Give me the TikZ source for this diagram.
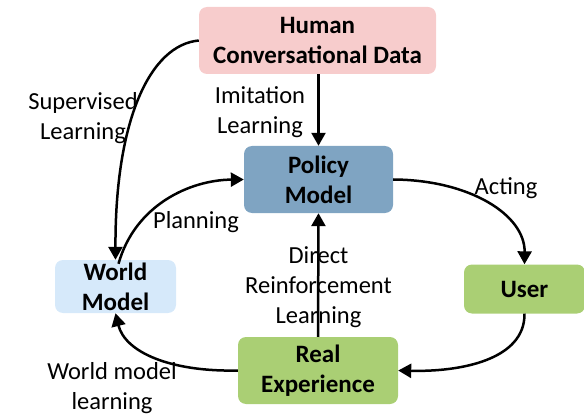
\documentclass[tikz,border=0pt]{standalone}
\usepackage{fontspec}
\setmainfont{Carlito}
\usetikzlibrary{arrows.meta}
\definecolor{pinkbox}{RGB}{247,204,204}
\definecolor{policybox}{RGB}{127,164,194}
\definecolor{worldbox}{RGB}{214,233,250}
\definecolor{greenbox}{RGB}{170,207,116}
\tikzset{
  box/.style={rounded corners=8pt, inner sep=0pt, align=center, font=\fontsize{25}{30}\selectfont\bfseries},
  lbl/.style={inner sep=0pt, align=center, font=\fontsize{24.5}{30}\selectfont},
  conn/.style={line width=2.5pt, -{Triangle[length=13pt,width=14pt]}}
}
\begin{document}
\begin{tikzpicture}[x=1pt,y=-1pt]
\useasboundingbox (0,0) rectangle (584,417);
\node[box, fill=pinkbox, minimum width=237pt, minimum height=67pt] (hum) at (317.5,40.5) {Human\\Conversational Data};
\node[box, fill=policybox, minimum width=149pt, minimum height=67pt] (pol) at (318.5,179.5) {Policy\\Model};
\node[box, fill=worldbox, minimum width=121pt, minimum height=53pt] (wor) at (115.5,286.5) {World\\Model};
\node[box, fill=greenbox, minimum width=121pt, minimum height=49pt] (usr) at (524.5,289) {User};
\node[box, fill=greenbox, minimum width=160pt, minimum height=67pt] (rea) at (318,370.5) {Real\\Experience};

\node[lbl] (lsup) at (83,118) {Supervised\\Learning};
\node[lbl] (limi) at (260,112) {Imitation\\Learning};
\node[lbl] (lact) at (506,188) {Acting};
\node[lbl] (lpla) at (196,222) {Planning};
\node[lbl] (ldrl) at (318.5,287) {Direct\\Reinforcement\\Learning};
\node[lbl] (lwml) at (112,388) {World model\\learning};

\draw[conn] (hum.west) .. controls (150,45) and (115,120) .. (wor.north);
\draw[conn] (hum.south -| pol.north) -- (pol.north);
\draw[conn] ([xshift=3pt,yshift=-4pt]wor.north) .. controls (135,205) and (190,180) .. (pol.west);
\draw[conn] (pol.east) .. controls (470,180) and (525,215) .. (usr.north);
\draw[conn] (usr.south) .. controls (525,360) and (460,372) .. (rea.east);
\draw[conn] (rea.west) .. controls (170,372) and (125,352) .. (wor.south);
\draw[conn] (rea.north) -- (pol.south);
\end{tikzpicture}
\end{document}
